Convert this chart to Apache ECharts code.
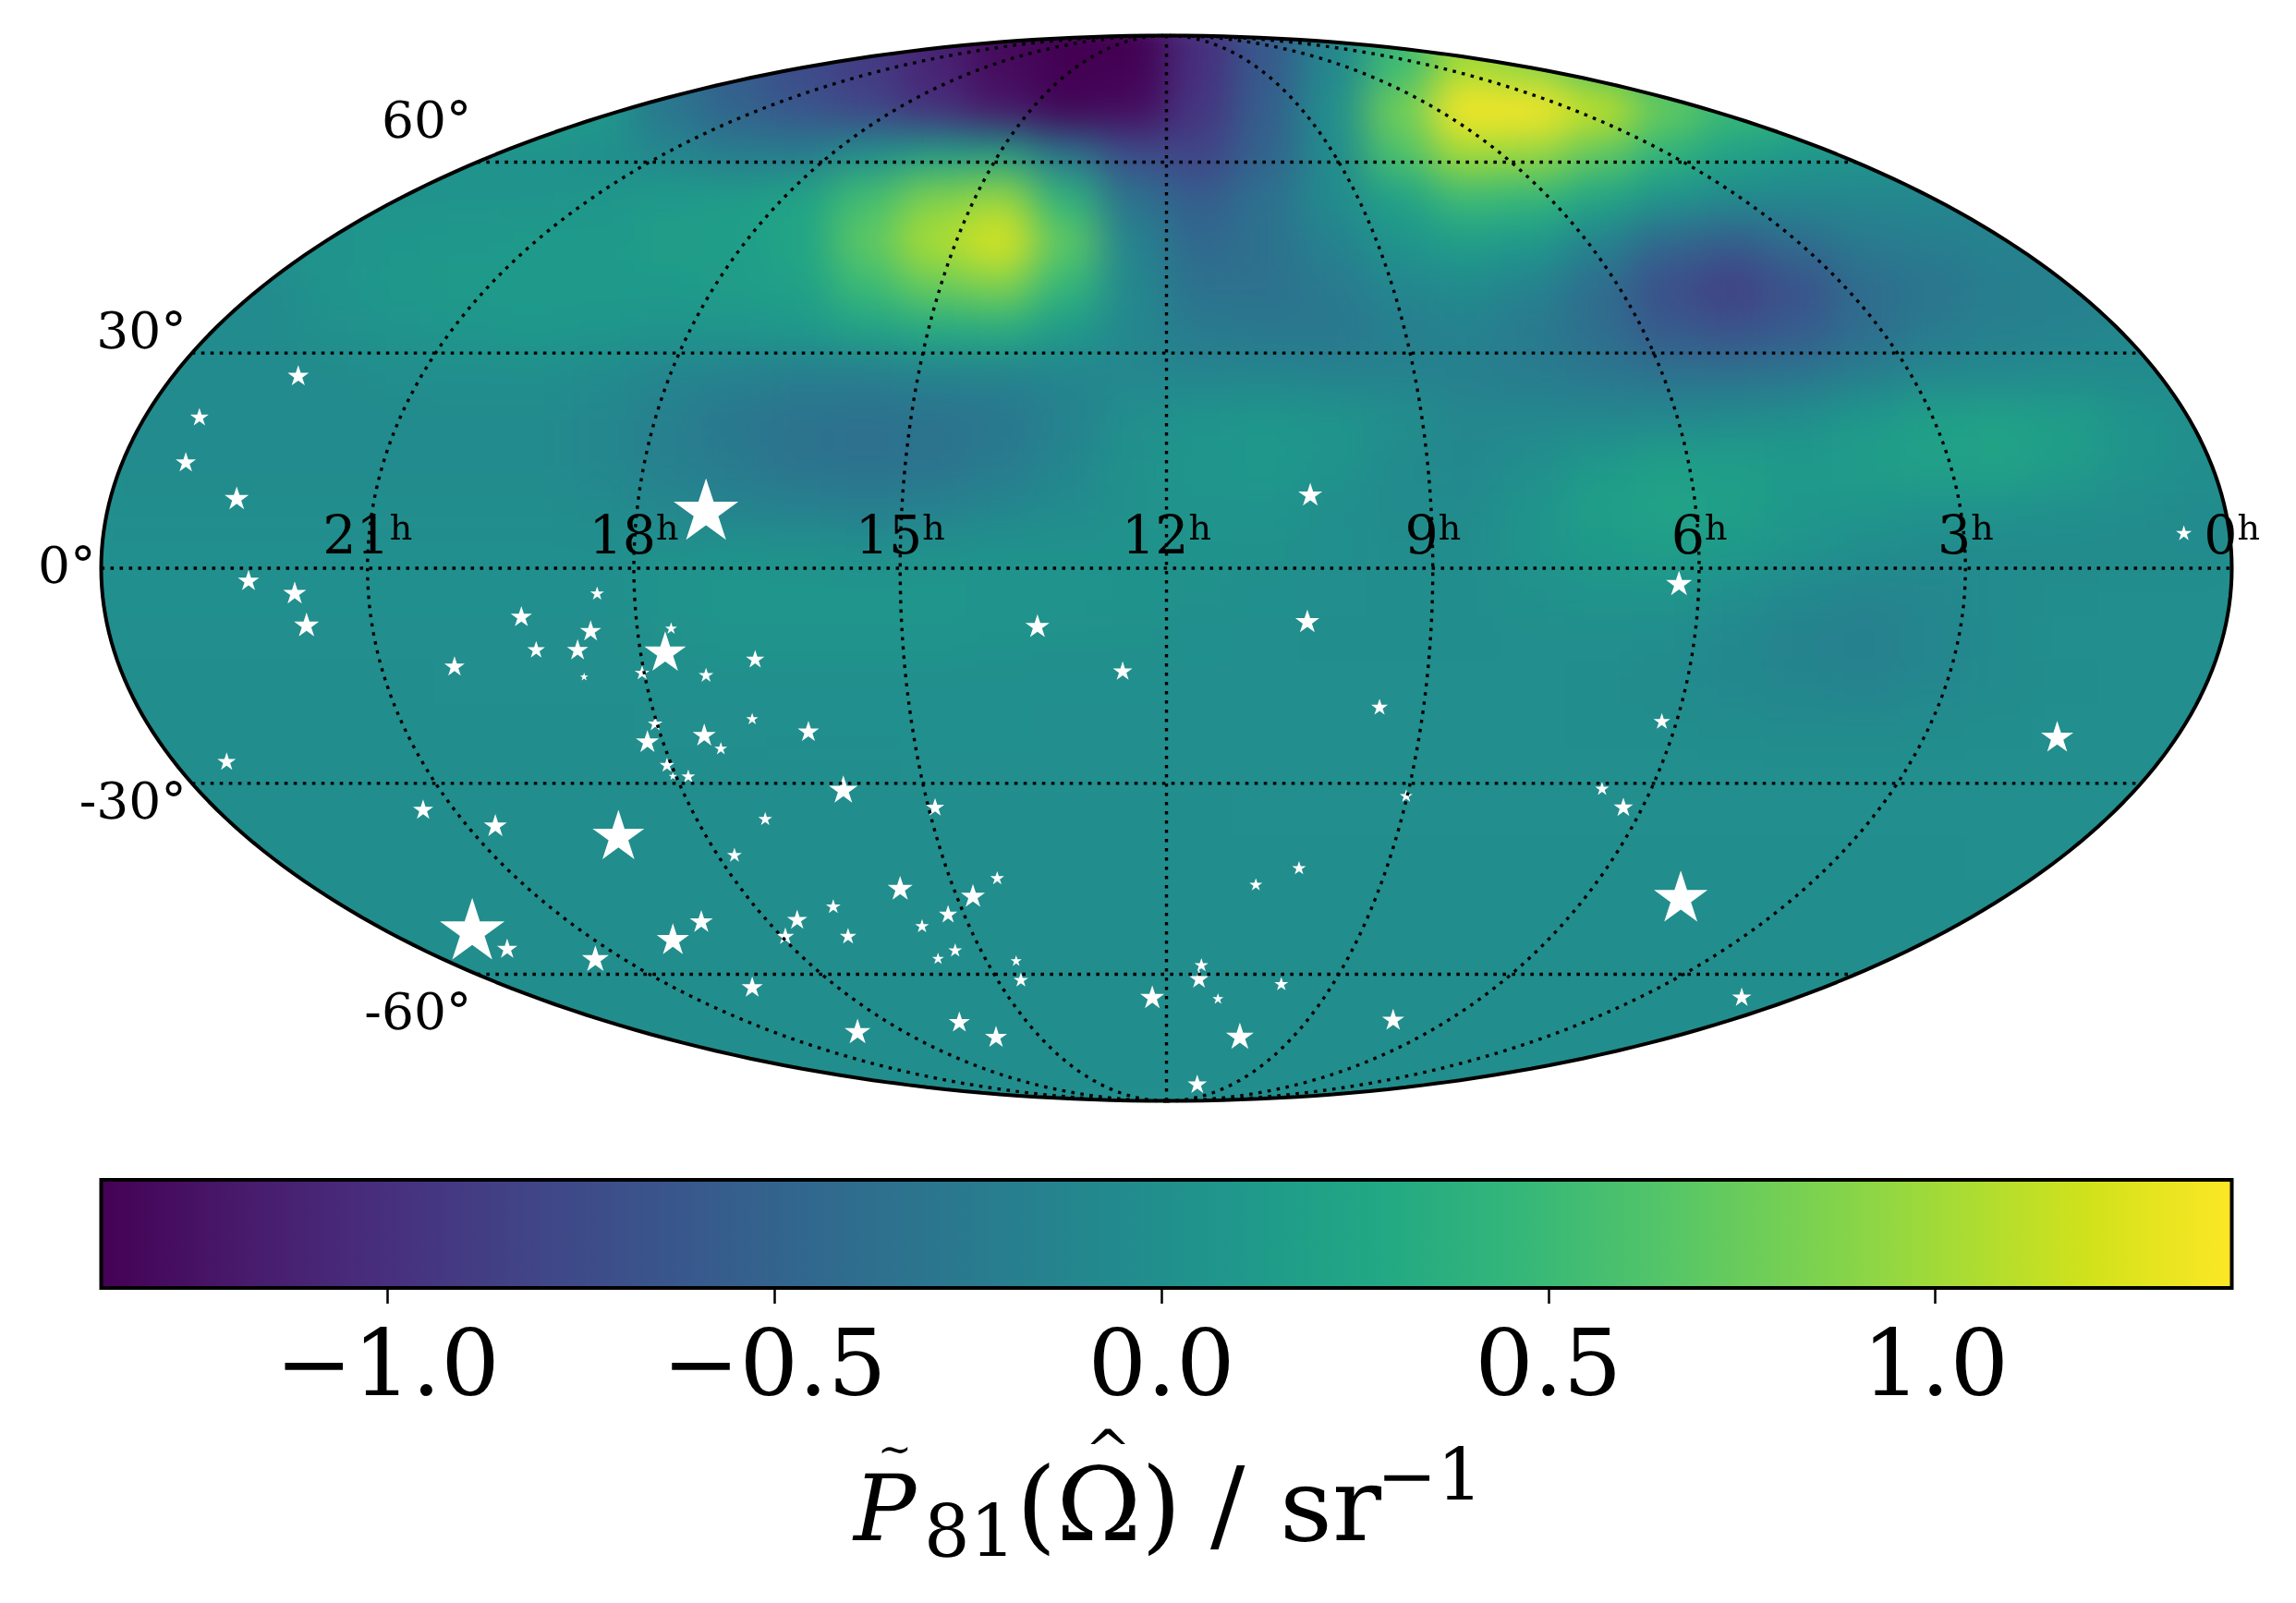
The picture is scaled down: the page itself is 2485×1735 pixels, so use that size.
<!DOCTYPE html>
<html>
<head>
<meta charset="utf-8">
<script src="https://cdn.jsdelivr.net/npm/echarts@6/dist/echarts.min.js"></script>
<style>
  html, body { margin: 0; background: #fff; }
  #clip { position: absolute; left: 0; top: 0; width: 2485px; height: 1735px;
          clip-path: ellipse(1153px 576.5px at 1262.5px 615px); }
  #field { width: 2485px; height: 1735px; filter: blur(22px); }
  #chart { position: absolute; left: 0; top: 0; width: 2485px; height: 1735px; }
</style>
</head>
<body>
<div id="clip"><div id="field"></div></div>
<div id="chart"></div>
<script>
const barMin = -1.37;
const barMax = 1.383;
const barTicks = [-1, -0.5, 0, 0.5, 1];
const viridis = ['#440154','#481a6c','#472f7d','#414487','#39568c','#31688e','#2a788e','#23888e',
                 '#1f988b','#22a884','#35b779','#54c568','#7ad151','#a5db36','#d2e21b','#fde725'];

// sky map, rows top to bottom, columns left to right on the map plane
const fieldRows = [
  [.1,.1,.1,.1,.1,.1,.2,0,-.25,-.55,-.75,-.9,-1.1,-1.3,-1.4,-1.4,-1,-.6,-.1,.5,1,.9,.6,.4,.3,.3,.3,.3,.3,.3,.3,.3],
  [.2,.2,.2,.2,.2,.2,.2,.12,-.3,-.5,-.65,-.8,-1,-1.2,-1.35,-1.3,-.95,-.55,0,.8,1.45,1.45,1.15,.75,.5,.4,.3,.3,.3,.3,.3,.3],
  [.1,.1,.1,.1,.05,.03,.03,0,-.1,-.22,-.22,0,.15,.15,-.3,-.72,-.82,-.5,-.05,.6,1,.95,.7,.4,.2,.1,.05,.05,.05,.05,.05,.05],
  [.05,.05,.05,.05,.05,.05,.05,.08,.12,.15,.22,.55,.85,.95,.4,-.35,-.55,-.35,-.05,.2,.5,.45,.25,.05,-.05,-.1,-.1,-.1,-.1,-.1,-.1,-.1],
  [.05,.05,.05,.05,.08,.1,.12,.12,.15,.15,.25,.7,1.05,1.25,.7,-.15,-.45,-.35,-.15,.05,.15,.1,-.15,-.45,-.55,-.4,-.25,-.2,-.15,-.15,-.15,-.15],
  [-.05,-.05,-.05,.05,.1,.12,.12,.12,.12,.15,.2,.5,.75,.85,.45,-.1,-.35,-.35,-.25,-.1,-.05,-.15,-.4,-.72,-.85,-.68,-.4,-.3,-.2,-.18,-.15,-.15],
  [-.05,-.05,-.05,.02,.05,.08,.1,.08,.05,.06,.1,.2,.3,.32,.12,-.1,-.25,-.28,-.28,-.2,-.15,-.25,-.4,-.6,-.68,-.58,-.4,-.25,-.18,-.15,-.1,-.1],
  [-.05,-.05,-.05,-.05,-.02,0,0,-.05,-.12,-.15,-.2,-.2,-.15,-.15,-.12,-.1,-.12,-.12,-.15,-.15,-.18,-.22,-.28,-.34,-.34,-.3,-.2,-.1,-.08,-.05,-.05,-.05],
  [-.05,-.05,-.05,-.05,-.05,-.05,-.05,-.1,-.18,-.28,-.33,-.35,-.33,-.28,-.15,-.02,.05,.08,.05,-.02,-.1,-.1,-.1,-.08,-.05,0,.1,.18,.2,.15,.05,0],
  [-.05,-.05,-.05,-.05,-.05,-.05,-.05,-.1,-.18,-.25,-.33,-.35,-.33,-.25,-.12,.02,.08,.1,.05,-.05,-.08,-.02,.1,.17,.16,.12,.15,.2,.22,.15,.05,0],
  [-.03,-.03,-.03,-.03,-.03,-.03,-.03,-.05,-.1,-.15,-.18,-.2,-.18,-.12,-.05,.02,.05,.05,0,-.05,-.05,.05,.18,.22,.18,.1,.08,.05,.05,.02,-.02,-.05],
  [0,0,0,0,0,0,0,0,.02,.03,.02,0,.02,.03,.03,.03,.03,.02,0,-.03,-.03,.05,.12,.16,.12,.05,-.02,-.05,-.05,-.05,-.05,-.05],
  [0,0,0,0,0,0,0,0,.05,.08,.08,.08,.08,.06,.05,.03,.02,0,-.02,-.03,-.03,.02,.05,.05,0,-.08,-.12,-.1,-.05,-.03,-.02,-.02],
  [-.02,-.02,-.02,-.02,-.02,-.02,-.02,-.02,.02,.05,.05,.05,.05,.03,.02,.02,0,-.02,-.03,-.03,-.03,-.02,-.02,-.03,-.08,-.15,-.18,-.12,-.05,-.02,-.02,-.02],
  [-.03,-.03,-.03,-.03,-.03,-.02,-.02,-.02,-.01,0,0,0,0,0,-.01,-.01,-.02,-.02,-.02,-.02,-.02,-.02,-.03,-.05,-.08,-.12,-.14,-.1,-.05,-.03,-.02,-.02],
  [-.03,-.03,-.03,-.03,-.03,-.03,-.03,-.03,-.02,-.02,-.01,-.01,-.01,-.01,-.02,-.02,-.02,-.02,-.02,-.02,-.02,-.02,-.03,-.03,-.04,-.05,-.05,-.04,-.03,-.02,-.02,-.02],
  [-.03,-.03,-.03,-.03,-.03,-.03,-.03,-.03,-.03,-.03,-.03,-.03,-.02,-.02,-.02,-.02,-.02,-.02,-.02,-.02,-.02,-.02,-.02,-.02,-.02,-.02,-.02,-.02,-.02,-.02,-.02,-.02],
  [-.03,-.03,-.03,-.03,-.03,-.03,-.03,-.03,-.03,-.03,-.03,-.03,-.03,-.03,-.03,-.03,-.03,-.02,-.02,-.02,-.02,-.02,-.02,-.02,-.02,-.02,-.02,-.02,-.02,-.02,-.02,-.02],
  [-.03,-.03,-.03,-.03,-.03,-.03,-.03,-.03,-.03,-.03,-.03,-.03,-.03,-.03,-.03,-.03,-.03,-.03,-.03,-.03,-.03,-.03,-.03,-.03,-.03,-.03,-.03,-.03,-.02,-.02,-.02,-.02],
  [-.03,-.03,-.03,-.03,-.03,-.03,-.03,-.03,-.03,-.03,-.03,-.03,-.03,-.03,-.03,-.03,-.03,-.03,-.03,-.03,-.03,-.03,-.03,-.03,-.03,-.03,-.03,-.03,-.03,-.03,-.03,-.03],
  [-.03,-.03,-.03,-.03,-.03,-.03,-.03,-.03,-.03,-.03,-.03,-.03,-.03,-.03,-.03,-.03,-.03,-.03,-.03,-.03,-.03,-.03,-.03,-.03,-.03,-.03,-.03,-.03,-.03,-.03,-.03,-.03],
  [-.03,-.03,-.03,-.03,-.03,-.03,-.03,-.03,-.03,-.03,-.03,-.03,-.03,-.03,-.03,-.03,-.03,-.03,-.03,-.03,-.03,-.03,-.03,-.03,-.03,-.03,-.03,-.03,-.03,-.03,-.03,-.03],
  [-.03,-.03,-.03,-.03,-.03,-.03,-.03,-.03,-.03,-.03,-.03,-.03,-.03,-.03,-.03,-.03,-.03,-.03,-.03,-.03,-.03,-.03,-.03,-.03,-.03,-.03,-.03,-.03,-.03,-.03,-.03,-.03],
  [-.03,-.03,-.03,-.03,-.03,-.03,-.03,-.03,-.03,-.03,-.03,-.03,-.03,-.03,-.03,-.03,-.03,-.03,-.03,-.03,-.03,-.03,-.03,-.03,-.03,-.03,-.03,-.03,-.03,-.03,-.03,-.03]
];

// stars (x -180..180, y -90..90)
const starX = [-146.7,-163.4,-165.7,-157.1,-77.8,24.3,171.9,-155.1,-147.3,-145.3,-96.2,-109,-97.3,-106.5,-99.5,-84.7,-83.7,-120.3,-88.6,-98.4,-77.8,-69.5,-21.8,-7.4,-70,-86.4,-60.5,-78.1,-87.7,-75.3,-84.4,-158.8,-80.8,-83.4,-54.6,-39.1,-67.8,-125.6,-113.4,-92.6,-73,-45,-28.6,-32.7,-56.3,-36.9,-78.6,-62.4,-41.3,-117.3,-83.4,-53.8,-64.4,-35.7,-111.4,-96.5,-38.6,-25.4,-24.6,-70,-52.2,-35,-28.8,-2.4,86.6,23.8,36,83.7,150.5,73.6,40.5,77.2,22.4,15.1,86.9,5.9,5.5,19.4,8.7,97.2,38.3,12.4,5.2];
const starY = [32.6,25.6,18,11.9,10,12.5,6,-2,-4.1,-9.5,-4.2,-8.1,-10.5,-13.7,-13.7,-14,-10.1,-16.5,-17.6,-18.3,-18,-15.3,-9.7,-17.3,-25.4,-26.2,-27.5,-28.1,-29.2,-30.4,-33.2,-32.6,-35.1,-35.1,-37.3,-40.3,-42.3,-40.7,-43.4,-45,-48.4,-54,-52.3,-55.3,-57.1,-58.4,-59.6,-59.3,-60.4,-60.9,-62.6,-62.1,-62.1,-64.5,-64.2,-65.9,-65.9,-66.3,-69.5,-70.7,-78.2,-76.6,-79.1,-72.4,-2.5,-8.9,-23.4,-25.8,-28.4,-37.2,-38.4,-40.3,-50.6,-53.4,-55.4,-67,-69.3,-70.2,-72.7,-72.4,-76.2,-79,-87.1];
const starWeight = [2.3,2,2.2,2.6,7,2.6,1.7,2.3,2.5,2.7,1.5,2.3,2.3,1.9,2.3,4.5,1.3,2.2,1.6,.9,1.6,2,2.6,2.1,1.3,1.6,2.3,2.5,2.5,1.4,1.6,2,1.5,.9,3.1,2,1.5,2.2,2.5,5.6,1.6,2.7,1.5,2.6,1.6,2,2.5,2.2,1.5,7,3.5,1.8,1.9,1.5,2.2,2.9,1.3,1.2,1.6,2.3,2.8,2.3,2.4,2.6,2.8,2.6,1.8,1.8,3.5,1.5,1.4,2.1,1.5,1.4,5.8,1.5,2.1,1.5,1.2,2.1,2.4,3,2.1];

const hourTicks = [21, 18, 15, 12, 9, 6, 3, 0];
const latTicks = [60, 30, 0, -30, -60];

const starPath = 'path://M0 -100L22.45 -30.9L95.1 -30.9L36.3 11.8L58.8 80.9L0 38.2L-58.8 80.9L-36.3 11.8L-95.1 -30.9L-22.45 -30.9Z';
const serif = '"DejaVu Serif"';
const mapBox = { left: 109.5, top: 38.5, width: 2306, height: 1153 };

// Mollweide auxiliary angle for a latitude in degrees
const auxAngle = (lat) => {
  const target = Math.PI * Math.sin(lat * Math.PI / 180);
  let t = lat * Math.PI / 180;
  for (let i = 0; i < 40; i++) {
    const d = 2 + 2 * Math.cos(2 * t);
    if (Math.abs(d) < 1e-6) break;
    t -= (2 * t + Math.sin(2 * t) - target) / d;
  }
  return t;
};

const project = (lonScale, theta) => [lonScale * 180 * Math.cos(theta), 90 * Math.sin(theta)];

const meridian = (lonScale) => {
  const pts = [];
  for (let i = 0; i <= 180; i++) pts.push(project(lonScale, -Math.PI / 2 + i * Math.PI / 180));
  return pts;
};

const parallel = (lat) => {
  const t = auxAngle(lat);
  return [project(-1, t), project(1, t)];
};

const frame = () => {
  const pts = [];
  for (let i = 0; i <= 360; i++) {
    const a = i * Math.PI / 180;
    pts.push([180 * Math.cos(a), 90 * Math.sin(a)]);
  }
  return pts;
};

const dotted = (data) => ({
  type: 'line', data, xAxisIndex: 0, yAxisIndex: 0, showSymbol: false, silent: true, z: 3, clip: false,
  lineStyle: { color: '#000', width: 3.4, type: [3.6, 6.4], cap: 'butt' }
});

const getFieldOption = () => {
  const rows = [fieldRows[0]].concat(fieldRows);
  const cells = [];
  rows.forEach((row, r) => row.forEach((v, c) => cells.push([c, r, v])));
  const rowH = mapBox.height / fieldRows.length;
  return {
    animation: false,
    backgroundColor: '#218f8d',
    grid: { left: mapBox.left, top: mapBox.top - rowH, width: mapBox.width, height: mapBox.height + rowH },
    xAxis: { type: 'category', show: false, data: fieldRows[0].map((v, i) => i) },
    yAxis: { type: 'category', show: false, inverse: true, data: rows.map((v, i) => i) },
    visualMap: { show: false, min: barMin, max: barMax, inRange: { color: viridis } },
    series: [{ type: 'heatmap', data: cells, progressive: 0, itemStyle: { borderWidth: 0 } }]
  };
};

const getChartOption = () => {
  const series = [];
  series.push({
    type: 'scatter', xAxisIndex: 0, yAxisIndex: 0, z: 2, clip: false, silent: true,
    data: starX.map((x, i) => [x, starY[i], starWeight[i]]),
    symbol: starPath, symbolKeepAspect: true,
    symbolSize: (v) => v[2] * 10,
    itemStyle: { color: '#fff', opacity: 1 }
  });
  hourTicks.filter((h) => h > 0).forEach((h) => series.push(dotted(meridian((12 - h) / 12))));
  latTicks.forEach((lat) => series.push(dotted(parallel(lat))));
  series.push({
    type: 'line', data: frame(), xAxisIndex: 0, yAxisIndex: 0, showSymbol: false, silent: true, z: 4, clip: false,
    lineStyle: { color: '#000', width: 4 }
  });
  series.push({
    type: 'scatter', xAxisIndex: 0, yAxisIndex: 0, z: 5, clip: false, silent: true, symbolSize: 0,
    itemStyle: { opacity: 1 },
    data: hourTicks.map((h) => ({ value: [(12 - h) * 15, 0], name: String(h) })),
    label: {
      show: true, position: 'inside', offset: [0, -31], color: '#000',
      formatter: (p) => `{n|${p.name}}{s|h}`,
      rich: {
        n: { fontFamily: serif, fontSize: 57, color: '#000' },
        s: { fontFamily: serif, fontSize: 38, color: '#000', verticalAlign: 'top' }
      }
    }
  });
  series.push({
    type: 'scatter', xAxisIndex: 0, yAxisIndex: 0, z: 5, clip: false, silent: true, symbolSize: 0,
    itemStyle: { opacity: 1 },
    data: latTicks.map((lat) => ({ value: parallel(lat)[0], name: lat + '°' })),
    label: {
      show: true, position: 'left', distance: 6, color: '#000',
      formatter: (p) => `{a|${p.name}}`,
      rich: { a: { fontFamily: serif, fontSize: 55, color: '#000' } }
    },
    labelLayout: (p) => ({ dy: -latTicks[p.dataIndex] * 0.72 + 2 })
  });
  series.push({
    type: 'custom', xAxisIndex: 1, yAxisIndex: 1, z: 2, clip: false, silent: true,
    data: [[barMin, barMax]],
    encode: { x: [0, 1] },
    renderItem: (params, api) => {
      const a = api.coord([api.value(0), 0]);
      const b = api.coord([api.value(1), 1]);
      return {
        type: 'rect',
        shape: { x: a[0], y: b[1], width: b[0] - a[0], height: a[1] - b[1] },
        style: {
          stroke: '#000', lineWidth: 4,
          fill: new echarts.graphic.LinearGradient(0, 0, 1, 0,
            viridis.map((color, i) => ({ offset: i / (viridis.length - 1), color })))
        }
      };
    }
  });
  const label = (text, x, y, size, extra) => ({
    type: 'text', x, y, silent: true,
    style: Object.assign({ text, fontFamily: serif, fontSize: size, fill: '#000', verticalAlign: 'middle' }, extra || {})
  });
  return {
    animation: false,
    grid: [
      Object.assign({ containLabel: false }, mapBox),
      { left: mapBox.left, top: 1277, width: mapBox.width, height: 117 }
    ],
    xAxis: [
      { type: 'value', gridIndex: 0, min: -180, max: 180, show: false },
      {
        type: 'value', gridIndex: 1, min: barMin, max: barMax,
        axisLine: { show: false }, splitLine: { show: false },
        axisTick: { show: true, length: 17, lineStyle: { color: '#000', width: 2.5 }, customValues: barTicks },
        axisLabel: {
          show: true, margin: 40, color: '#000', fontFamily: serif, fontSize: 100,
          customValues: barTicks,
          formatter: (v) => (v < 0 ? '\u2212' : '') + Math.abs(v).toFixed(1)
        }
      }
    ],
    yAxis: [
      { type: 'value', gridIndex: 0, min: -90, max: 90, show: false },
      { type: 'value', gridIndex: 1, min: 0, max: 1, show: false }
    ],
    series,
    graphic: { elements: [
      label('P', 924, 1641, 100, { fontStyle: 'italic' }),
      label('~', 950, 1573, 44),
      label('81', 1000, 1665, 78),
      label('(\u03a9)', 1100, 1638, 111),
      label('^', 1174, 1574, 60),
      label('/', 1310, 1638, 111),
      label('sr', 1385, 1638, 111),
      label('\u22121', 1490, 1604, 78)
    ] }
  };
};

const initCharts = () => {
  const field = echarts.init(document.getElementById('field'));
  field.setOption(getFieldOption());
  const chart = echarts.init(document.getElementById('chart'));
  chart.setOption(getChartOption());
};

document.addEventListener('DOMContentLoaded', initCharts);
</script>
</body>
</html>
